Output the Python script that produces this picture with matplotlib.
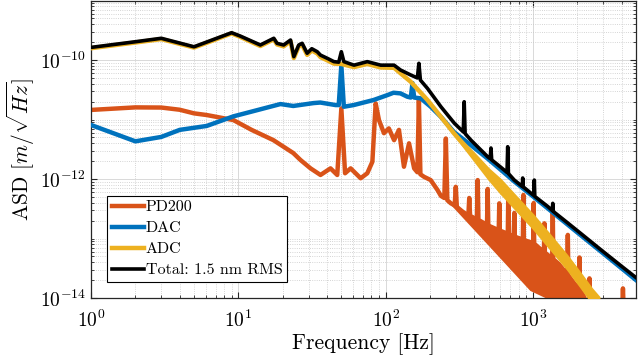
import numpy as np
import matplotlib
matplotlib.use("Agg")
import matplotlib.pyplot as plt
from matplotlib.ticker import LogLocator, NullFormatter

plt.rcParams['font.family'] = 'serif'
plt.rcParams['font.serif'] = ['cmr10']
plt.rcParams['mathtext.fontset'] = 'cm'
plt.rcParams['axes.unicode_minus'] = False
plt.rcParams['axes.formatter.use_mathtext'] = True

# PD200 (orange) - line with spikes
pd_f = [1, 2, 3, 4, 5, 6.1, 9.25, 12.3, 17.3, 23.6, 26.4, 30.9, 36.1, 42.2, 46.9, 50, 53,
        57.8, 67.6, 75, 81.2, 85.5, 90, 97.3, 105, 114, 123, 133, 144, 156, 164, 168, 172,
        182, 202, 225, 237, 250, 256, 262, 277, 294, 299, 304, 340, 364, 369, 374, 416, 421,
        426, 487, 492, 497, 585, 590, 595, 674, 680, 686, 740, 746, 752, 853, 860, 867, 1002,
        1010, 1018, 1185, 1194, 1203, 1350, 1361, 1372, 1500, 1708, 1722, 1736, 2000, 2050,
        2066, 2082, 2200, 2300, 2395, 2415, 2435, 4000, 4075, 4150]
pd_v = [1.45e-11, 1.60e-11, 1.59e-11, 1.46e-11, 1.27e-11, 1.19e-11, 9.8e-12, 6.7e-12, 4.5e-12,
        2.73e-12, 2.09e-12, 1.51e-12, 1.17e-12, 1.51e-12, 1.17e-12, 1.54e-11, 1.25e-12,
        1.51e-12, 1.03e-12, 1.25e-12, 1.95e-12, 1.87e-11, 9.8e-12, 5.9e-12, 7.1e-12, 4.5e-12,
        6.7e-12, 1.61e-12, 3.98e-12, 1.51e-12, 1.3e-12, 2.13e-11, 1.2e-12, 1.09e-12, 9.6e-13,
        6.5e-13, 5.2e-13, 4.8e-13, 4.8e-12, 4.4e-13, 3.9e-13, 3.6e-13, 7.4e-13, 3.4e-13,
        2.7e-13, 2.45e-13, 4.8e-13, 2.4e-13, 2.1e-13, 9.6e-13, 2.05e-13, 1.7e-13, 6.8e-13,
        1.65e-13, 1.38e-13, 3.9e-13, 1.36e-13, 1.2e-13, 6.5e-13, 1.18e-13, 1.08e-13, 2.69e-13,
        1.07e-13, 9.6e-14, 5.4e-13, 9.4e-14, 8.4e-14, 3.95e-13, 8.2e-14, 5.9e-14, 1.8e-13,
        5.8e-14, 4.6e-14, 2.73e-13, 4.5e-14, 3.7e-14, 2.5e-14, 1.15e-13, 2.4e-14, 1.5e-14,
        1.4e-14, 4.8e-14, 1.35e-14, 1.1e-14, 8e-15, 7e-15, 2.14e-14, 6.5e-15, 4e-15, 1.45e-14,
        4e-15]
# PD200 dense noise band at high frequency
pd_band_hi_f = [277, 379, 600, 1000, 1500, 2000, 2300]
pd_band_hi = [3.9e-13, 2.39e-13, 1.35e-13, 8.5e-14, 3.7e-14, 1.5e-14, 8e-15]
pd_band_lo_f = [277, 518, 968, 1259, 1320]
pd_band_lo = [3.9e-13, 7.3e-14, 1.36e-14, 1e-14, 8e-15]

# DAC (blue)
dac_f = [1, 2, 3, 4, 6.1, 9.25, 12.6, 19.3, 23.6, 32.4, 36, 45.7, 48, 50, 52, 60.6, 82.8,
         103, 113, 126, 140, 148, 152, 156, 173, 202, 237, 290, 379, 492, 600, 750, 1000,
         2000, 3000, 5000]
dac_v = [8.1e-12, 4.3e-12, 5.1e-12, 6.7e-12, 7.8e-12, 1.13e-11, 1.38e-11, 1.82e-11, 1.69e-11,
         1.89e-11, 1.93e-11, 1.75e-11, 1.75e-11, 8.2e-11, 1.64e-11, 1.75e-11, 2.13e-11,
         2.58e-11, 2.82e-11, 2.75e-11, 2.42e-11, 2.34e-11, 4.1e-11, 2.34e-11, 2.27e-11,
         1.64e-11, 1.11e-11, 6.2e-12, 3.7e-12, 2.2e-12, 1.45e-12, 9.0e-13, 5.1e-13,
         1.26e-13, 5.6e-14, 2.0e-14]

# ADC (yellow)
adc_f = [1, 2, 3, 5, 9, 10.3, 14.1, 17.4, 18.3, 20.3, 22.6, 23.8, 25.7, 27.1, 29.3, 31.5,
         34.3, 36.1, 40.1, 44.5, 50, 60.9, 75, 92.5, 114, 126, 148, 192, 237, 290, 379, 492,
         606, 1020, 1722, 2355, 2800]
adc_v = [1.58e-10, 1.97e-10, 2.25e-10, 1.62e-10, 2.8e-10, 2.45e-10, 1.72e-10, 2.23e-10,
         1.83e-10, 1.70e-10, 2.07e-10, 1.08e-10, 1.70e-10, 1.80e-10, 1.22e-10, 1.45e-10,
         1.29e-10, 1.12e-10, 9.9e-11, 8.7e-11, 8.6e-11, 7.6e-11, 8.6e-11, 7.5e-11, 7.4e-11,
         6.0e-11, 4.3e-11, 2.13e-11, 1.11e-11, 5.9e-12, 2.73e-12, 1.26e-12, 7.4e-13, 1.82e-13,
         3.9e-14, 1.36e-14, 8e-15]
adc_band_f = [300, 400, 500, 600, 800, 1000, 1300, 1700, 2100, 2500, 2800]
adc_band_hi = [5.6e-12, 2.68e-12, 1.48e-12, 9.9e-13, 4.55e-13, 2.5e-13, 1.16e-13, 5.2e-14,
               2.6e-14, 1.44e-14, 1.04e-14]
adc_band_lo = [5.1e-12, 2.03e-12, 9.9e-13, 5.85e-13, 2.7e-13, 1.48e-13, 6.8e-14, 3.1e-14,
               1.54e-14, 8.5e-15, 6e-15]

# Total (black)
total_f = [1, 2, 3, 5, 9, 10.3, 14.1, 17.4, 18.3, 20.3, 22.6, 23.8, 25.7, 27.1, 29.3, 31.5,
           34.3, 36.1, 40.1, 44.5, 48, 50, 52, 60.9, 75, 92.5, 114, 126, 148, 164, 168, 172,
           192, 237, 292, 336, 341, 346, 379, 492, 512, 518, 524, 600, 666, 673, 680, 746,
           845, 851, 857, 1000, 1012, 1020, 1028, 1259, 1350, 1361, 1372, 1722, 2122, 2902,
           3969, 5000]
total_v = [1.63e-10, 2.03e-10, 2.32e-10, 1.67e-10, 2.88e-10, 2.53e-10, 1.79e-10, 2.32e-10,
           1.91e-10, 1.79e-10, 2.17e-10, 1.14e-10, 1.79e-10, 1.91e-10, 1.30e-10, 1.55e-10,
           1.38e-10, 1.21e-10, 1.07e-10, 9.4e-11, 9.2e-11, 1.38e-10, 9.4e-11, 8.2e-11, 9.4e-11,
           8.2e-11, 8.2e-11, 6.8e-11, 5.6e-11, 5.0e-11, 8.8e-11, 4.6e-11, 3.34e-11, 1.64e-11,
           8.7e-12, 6.2e-12, 1.99e-11, 5.8e-12, 4.5e-12, 2.37e-12, 2.2e-12, 3.32e-12, 2.1e-12,
           1.6e-12, 1.29e-12, 3.49e-12, 1.24e-12, 9.6e-13, 7.5e-13, 1.04e-12, 7.4e-13, 5.4e-13,
           5.3e-13, 9.6e-13, 5.1e-13, 3.45e-13, 2.95e-13, 3.9e-13, 2.85e-13, 1.82e-13, 1.2e-13,
           6.4e-14, 3.45e-14, 2.2e-14]

c_pd = '#D95319'
c_dac = '#0072BD'
c_adc = '#EDB120'
lw = 3.2

fig = plt.figure(figsize=(6.4, 3.61), dpi=100)
ax = fig.add_axes([0.1422, 0.1745, 0.8516, 0.824])

band_x = np.concatenate([pd_band_hi_f, pd_band_lo_f[::-1]])
band_y = np.concatenate([pd_band_hi, pd_band_lo[::-1]])
ax.fill(band_x, band_y, color=c_pd, lw=1.5, zorder=2)
ax.plot(pd_f, pd_v, color=c_pd, lw=lw, label='PD200', zorder=2)

ax.plot(dac_f, dac_v, color=c_dac, lw=lw, label='DAC', zorder=3)

ax.fill_between(adc_band_f, adc_band_lo, adc_band_hi, color=c_adc, lw=1.5, zorder=4)
ax.plot(adc_f, adc_v, color=c_adc, lw=lw, label='ADC', zorder=4)

ax.plot(total_f, total_v, color='k', lw=2.6, label='Total: 1.5 nm RMS', zorder=5)

ax.set_xscale('log')
ax.set_yscale('log')
ax.set_xlim(1, 5000)
ax.set_ylim(1e-14, 1e-9)
ax.set_yticks([1e-14, 1e-12, 1e-10])
ax.yaxis.set_minor_locator(LogLocator(base=10, subs=np.arange(1, 10), numticks=100))
ax.yaxis.set_minor_formatter(NullFormatter())
ax.xaxis.set_minor_locator(LogLocator(base=10, subs=np.arange(2, 10), numticks=100))
ax.xaxis.set_minor_formatter(NullFormatter())

ax.grid(True, which='major', color='0.85', lw=0.7, ls='-')
ax.grid(True, which='minor', color='0.78', lw=0.6, ls=':')
ax.set_axisbelow(True)

ax.tick_params(which='both', direction='in', top=True, right=True, colors='0.15',
               labelsize=14, labelcolor='k')
ax.tick_params(which='major', length=4, width=0.8)
ax.tick_params(which='minor', length=2, width=0.6)
ax.tick_params(axis='x', which='major', pad=8)
for s in ax.spines.values():
    s.set_color('0.15')
    s.set_linewidth(0.9)

ax.set_xlabel('Frequency [Hz]', fontsize=15.5, labelpad=2)
ax.set_ylabel(r'ASD $[m/\sqrt{Hz}]$', fontsize=15.5, labelpad=2)

leg = ax.legend(loc='lower left', bbox_to_anchor=(0.029, 0.054), borderaxespad=0,
                fontsize=11.5, handlelength=2.0, handletextpad=0.15, labelspacing=0.42,
                borderpad=0.3, fancybox=False, framealpha=1, edgecolor='k')
leg.get_frame().set_linewidth(0.8)

fig.savefig('out.png', dpi=100)
